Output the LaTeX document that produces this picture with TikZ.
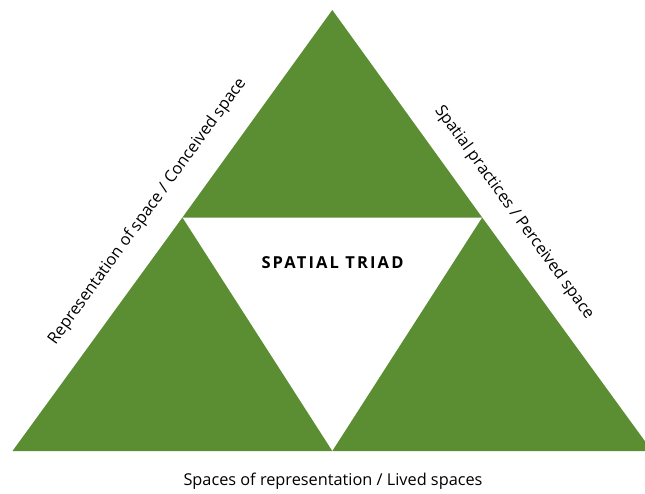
\documentclass[tikz,border=0pt]{standalone}
\usepackage{fontspec}
\setmainfont{Open Sans}
\definecolor{triadgreen}{RGB}{91,142,50}
\begin{document}
\begin{tikzpicture}[x=1pt,y=-1pt,
  label/.style={font=\fontsize{16.3}{19}\selectfont, text=black, inner sep=0pt},
  greenfill/.style={fill=triadgreen, draw=none}]
\useasboundingbox (0,0) rectangle (645,493);
\clip (0,0) rectangle (645,493);
\coordinate (A) at (332.3,10);
\coordinate (L) at (12.5,451);
\coordinate (R) at (652.1,451);
\coordinate (ML) at (182.4,217.5);
\coordinate (MR) at (482.2,217.5);
\coordinate (MB) at (332.3,451);
\fill[greenfill] (A) -- (ML) -- (MR) -- cycle;
\fill[greenfill] (ML) -- (L) -- (MB) -- cycle;
\fill[greenfill] (MR) -- (MB) -- (R) -- cycle;
\node[label] (bottom) at (333,481) {Spaces of representation / Lived spaces};
\node[label, rotate=54.04] (left) at (147.5,211.5) {Representation of space / Conceived space};
\node[label, rotate=-54.04] (right) at (514,212.5) {Spatial practices / Perceived space};
\node[font=\fontsize{16.5}{19}\selectfont\bfseries\addfontfeature{LetterSpace=13}, inner sep=0pt] (center) at (332.5,263) {SPATIAL TRIAD};
\end{tikzpicture}
\end{document}
